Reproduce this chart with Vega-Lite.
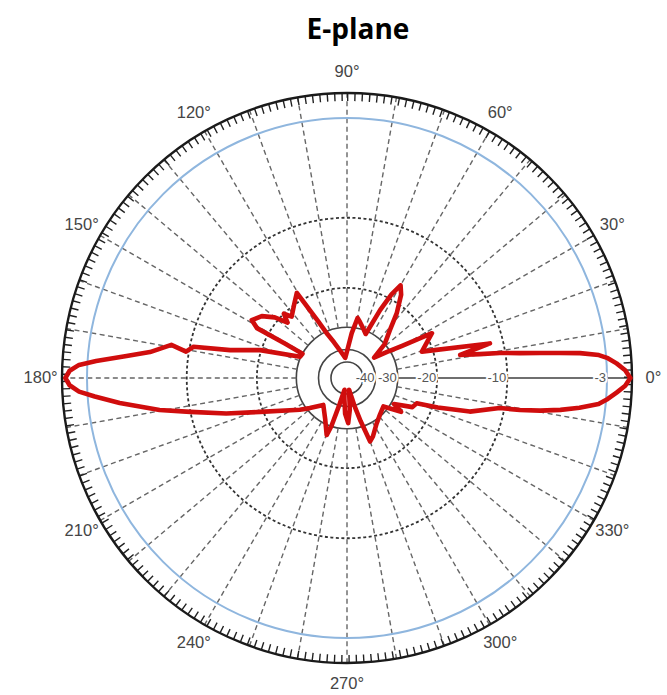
{
  "$schema": "https://vega.github.io/schema/vega-lite/v6.json",
  "width": 570,
  "height": 570,
  "autosize": {"type": "none"},
  "padding": {"left": 62, "top": 93, "right": 35, "bottom": 32},
  "background": "white",
  "title": {
    "text": "E-plane",
    "font": "Open Sans",
    "fontSize": 28,
    "fontWeight": "bold",
    "color": "#000000",
    "anchor": "middle",
    "frame": "group",
    "dx": 11,
    "offset": 19
  },
  "config": {"view": {"stroke": null}},
  "datasets": {
    "innerRings": [{"dB": -50}, {"dB": -40}, {"dB": -30}],
    "dottedRings": [{"dB": -20}, {"dB": -10}],
    "halfPower": [{"dB": -3}],
    "outer": [{"dB": 0}],
    "spokes": [
      {"angle": 10}, {"angle": 20}, {"angle": 30}, {"angle": 40}, {"angle": 50}, {"angle": 60},
      {"angle": 70}, {"angle": 80}, {"angle": 90}, {"angle": 100}, {"angle": 110}, {"angle": 120},
      {"angle": 130}, {"angle": 140}, {"angle": 150}, {"angle": 160}, {"angle": 170}, {"angle": 180},
      {"angle": 190}, {"angle": 200}, {"angle": 210}, {"angle": 220}, {"angle": 230}, {"angle": 240},
      {"angle": 250}, {"angle": 260}, {"angle": 270}, {"angle": 280}, {"angle": 290}, {"angle": 300},
      {"angle": 310}, {"angle": 320}, {"angle": 330}, {"angle": 340}, {"angle": 350}
    ],
    "radialAxis": [{"angle": 0}],
    "angleLabels": [
      {"angle": 0, "label": "0°"}, {"angle": 30, "label": "30°"}, {"angle": 60, "label": "60°"},
      {"angle": 90, "label": "90°"}, {"angle": 120, "label": "120°"}, {"angle": 150, "label": "150°"},
      {"angle": 180, "label": "180°"}, {"angle": 210, "label": "210°"}, {"angle": 240, "label": "240°"},
      {"angle": 270, "label": "270°"}, {"angle": 300, "label": "300°"}, {"angle": 330, "label": "330°"}
    ],
    "ringLabels": [
      {"dB": -40, "label": "-40"}, {"dB": -30, "label": "-30"}, {"dB": -20, "label": "-20"},
      {"dB": -10, "label": "-10"}, {"dB": -3, "label": "-3"}
    ],
    "ePlane": [
      {"k": 0, "angle": 0, "dB": -0.2},
      {"k": 1, "angle": 1.6, "dB": -0.8},
      {"k": 2, "angle": 3.1, "dB": -1.8},
      {"k": 3, "angle": 4.35, "dB": -2.8},
      {"k": 4, "angle": 5.2, "dB": -3.5},
      {"k": 5, "angle": 6.1, "dB": -4.8},
      {"k": 6, "angle": 6.7, "dB": -6.2},
      {"k": 7, "angle": 7.4, "dB": -7.6},
      {"k": 8, "angle": 8.2, "dB": -9},
      {"k": 9, "angle": 9.3, "dB": -10.6},
      {"k": 10, "angle": 10.2, "dB": -13},
      {"k": 11, "angle": 11.5, "dB": -15.7},
      {"k": 12, "angle": 13.6, "dB": -11.5},
      {"k": 13, "angle": 19.4, "dB": -22.2},
      {"k": 14, "angle": 27.8, "dB": -18.9},
      {"k": 15, "angle": 30.2, "dB": -26},
      {"k": 16, "angle": 33, "dB": -31},
      {"k": 17, "angle": 37, "dB": -37},
      {"k": 18, "angle": 42, "dB": -30},
      {"k": 19, "angle": 48, "dB": -26},
      {"k": 20, "angle": 52.5, "dB": -21.7},
      {"k": 21, "angle": 57, "dB": -18.3},
      {"k": 22, "angle": 60, "dB": -17},
      {"k": 23, "angle": 62, "dB": -19.2},
      {"k": 24, "angle": 64, "dB": -23},
      {"k": 25, "angle": 67, "dB": -31},
      {"k": 26, "angle": 72, "dB": -29.5},
      {"k": 27, "angle": 77, "dB": -27.8},
      {"k": 28, "angle": 80, "dB": -26.8},
      {"k": 29, "angle": 84, "dB": -32},
      {"k": 30, "angle": 89, "dB": -40},
      {"k": 31, "angle": 95, "dB": -46},
      {"k": 32, "angle": 105, "dB": -39.4},
      {"k": 33, "angle": 110, "dB": -35},
      {"k": 34, "angle": 114, "dB": -31},
      {"k": 35, "angle": 117, "dB": -26},
      {"k": 36, "angle": 120.5, "dB": -18.4},
      {"k": 37, "angle": 126, "dB": -20},
      {"k": 38, "angle": 132, "dB": -21.5},
      {"k": 39, "angle": 134.5, "dB": -20},
      {"k": 40, "angle": 137, "dB": -21.8},
      {"k": 41, "angle": 140, "dB": -19.2},
      {"k": 42, "angle": 144, "dB": -17.3},
      {"k": 43, "angle": 148.7, "dB": -16.3},
      {"k": 44, "angle": 151, "dB": -17.7},
      {"k": 45, "angle": 151, "dB": -24},
      {"k": 46, "angle": 151.5, "dB": -30},
      {"k": 47, "angle": 155.6, "dB": -29.7},
      {"k": 48, "angle": 162.2, "dB": -19.8},
      {"k": 49, "angle": 166.6, "dB": -15},
      {"k": 50, "angle": 168.5, "dB": -10.4},
      {"k": 51, "angle": 170.7, "dB": -9.8},
      {"k": 52, "angle": 169.3, "dB": -8.7},
      {"k": 53, "angle": 172.5, "dB": -7.3},
      {"k": 54, "angle": 174.3, "dB": -5.7},
      {"k": 55, "angle": 176.1, "dB": -3.6},
      {"k": 56, "angle": 177.2, "dB": -2},
      {"k": 57, "angle": 178.5, "dB": -0.9},
      {"k": 58, "angle": 180, "dB": -0.4},
      {"k": 59, "angle": 181.5, "dB": -0.9},
      {"k": 60, "angle": 182.9, "dB": -2},
      {"k": 61, "angle": 184.2, "dB": -3.5},
      {"k": 62, "angle": 186.3, "dB": -5.2},
      {"k": 63, "angle": 189.7, "dB": -7.9},
      {"k": 64, "angle": 192.2, "dB": -10},
      {"k": 65, "angle": 196.4, "dB": -14.2},
      {"k": 66, "angle": 201.3, "dB": -19.4},
      {"k": 67, "angle": 214, "dB": -28},
      {"k": 68, "angle": 219, "dB": -31},
      {"k": 69, "angle": 228.7, "dB": -36},
      {"k": 70, "angle": 242, "dB": -31.5},
      {"k": 71, "angle": 250.4, "dB": -26.9},
      {"k": 72, "angle": 252, "dB": -30},
      {"k": 73, "angle": 254, "dB": -40},
      {"k": 74, "angle": 258, "dB": -55},
      {"k": 75, "angle": 263, "dB": -45},
      {"k": 76, "angle": 267, "dB": -36},
      {"k": 77, "angle": 271.5, "dB": -32},
      {"k": 78, "angle": 275, "dB": -38},
      {"k": 79, "angle": 280, "dB": -55},
      {"k": 80, "angle": 285, "dB": -40},
      {"k": 81, "angle": 287.5, "dB": -32},
      {"k": 82, "angle": 290, "dB": -25},
      {"k": 83, "angle": 294, "dB": -26},
      {"k": 84, "angle": 302.7, "dB": -28.7},
      {"k": 85, "angle": 312, "dB": -30.5},
      {"k": 86, "angle": 322, "dB": -31.6},
      {"k": 87, "angle": 328, "dB": -26},
      {"k": 88, "angle": 331, "dB": -29},
      {"k": 89, "angle": 336, "dB": -24},
      {"k": 90, "angle": 340, "dB": -23.4},
      {"k": 91, "angle": 342, "dB": -19},
      {"k": 92, "angle": 344.7, "dB": -14},
      {"k": 93, "angle": 348.9, "dB": -10.5},
      {"k": 94, "angle": 349.5, "dB": -8.9},
      {"k": 95, "angle": 350.4, "dB": -7.5},
      {"k": 96, "angle": 351.5, "dB": -6.1},
      {"k": 97, "angle": 352.7, "dB": -4.8},
      {"k": 98, "angle": 354.1, "dB": -3.5},
      {"k": 99, "angle": 355.4, "dB": -2.8},
      {"k": 100, "angle": 356.9, "dB": -1.8},
      {"k": 101, "angle": 358.4, "dB": -0.8},
      {"k": 102, "angle": 360, "dB": -0.2}
    ]
  },
  "layer": [
    {
      "data": {"name": "innerRings"},
      "transform": [
        {"calculate": "datum.dB <= -10 ? pow(10, datum.dB / 40) : (datum.dB <= -3 ? 0.5623 + (datum.dB + 10) * 0.05 : 0.912 + (datum.dB + 3) * 0.02933)", "as": "r"}
      ],
      "mark": {"type": "arc", "theta": 0, "theta2": 6.2832, "filled": false, "stroke": "#444444", "strokeWidth": 1.6},
      "encoding": {
        "radius": {"field": "r", "type": "quantitative", "stack": null, "scale": {"type": "linear", "domain": [0, 1], "range": [0, {"expr": "width / 2"}]}}
      }
    },
    {
      "data": {"name": "dottedRings"},
      "transform": [
        {"calculate": "datum.dB <= -10 ? pow(10, datum.dB / 40) : (datum.dB <= -3 ? 0.5623 + (datum.dB + 10) * 0.05 : 0.912 + (datum.dB + 3) * 0.02933)", "as": "r"}
      ],
      "mark": {"type": "arc", "theta": 0, "theta2": 6.2832, "filled": false, "stroke": "#333333", "strokeWidth": 1.8, "strokeDash": [3, 2.5]},
      "encoding": {
        "radius": {"field": "r", "type": "quantitative", "stack": null, "scale": {"type": "linear", "domain": [0, 1], "range": [0, {"expr": "width / 2"}]}}
      }
    },
    {
      "data": {"name": "spokes"},
      "transform": [
        {"calculate": "pow(10, -30 / 40) * cos(datum.angle * PI / 180)", "as": "x1"},
        {"calculate": "pow(10, -30 / 40) * sin(datum.angle * PI / 180)", "as": "y1"},
        {"calculate": "cos(datum.angle * PI / 180)", "as": "x2"},
        {"calculate": "sin(datum.angle * PI / 180)", "as": "y2"}
      ],
      "mark": {"type": "rule", "stroke": "#666666", "strokeWidth": 1.4, "strokeDash": [5, 3.5]},
      "encoding": {
        "x": {"field": "x1", "type": "quantitative", "scale": {"domain": [-1, 1], "nice": false, "zero": false}, "axis": null},
        "y": {"field": "y1", "type": "quantitative", "scale": {"domain": [-1, 1], "nice": false, "zero": false}, "axis": null},
        "x2": {"field": "x2"},
        "y2": {"field": "y2"}
      }
    },
    {
      "data": {"name": "radialAxis"},
      "transform": [
        {"calculate": "pow(10, -30 / 40) * cos(datum.angle * PI / 180)", "as": "x1"},
        {"calculate": "pow(10, -30 / 40) * sin(datum.angle * PI / 180)", "as": "y1"},
        {"calculate": "cos(datum.angle * PI / 180)", "as": "x2"},
        {"calculate": "sin(datum.angle * PI / 180)", "as": "y2"}
      ],
      "mark": {"type": "rule", "stroke": "#6f6f6f", "strokeWidth": 2},
      "encoding": {
        "x": {"field": "x1", "type": "quantitative"},
        "y": {"field": "y1", "type": "quantitative"},
        "x2": {"field": "x2"},
        "y2": {"field": "y2"}
      }
    },
    {
      "data": {"name": "halfPower"},
      "transform": [
        {"calculate": "datum.dB <= -10 ? pow(10, datum.dB / 40) : (datum.dB <= -3 ? 0.5623 + (datum.dB + 10) * 0.05 : 0.912 + (datum.dB + 3) * 0.02933)", "as": "r"}
      ],
      "mark": {"type": "arc", "theta": 0, "theta2": 6.2832, "filled": false, "stroke": "#8fb6de", "strokeWidth": 2},
      "encoding": {
        "radius": {"field": "r", "type": "quantitative", "stack": null, "scale": {"type": "linear", "domain": [0, 1], "range": [0, {"expr": "width / 2"}]}}
      }
    },
    {
      "data": {"name": "outer"},
      "transform": [
        {"calculate": "datum.dB <= -10 ? pow(10, datum.dB / 40) : (datum.dB <= -3 ? 0.5623 + (datum.dB + 10) * 0.05 : 0.912 + (datum.dB + 3) * 0.02933)", "as": "r"}
      ],
      "mark": {"type": "arc", "theta": 0, "theta2": 6.2832, "filled": false, "stroke": "#222222", "strokeWidth": 8, "radiusOffset": -4, "strokeDash": [1.4, 5.93]},
      "encoding": {
        "radius": {"field": "r", "type": "quantitative", "stack": null, "scale": {"type": "linear", "domain": [0, 1], "range": [0, {"expr": "width / 2"}]}}
      }
    },
    {
      "data": {"name": "outer"},
      "transform": [
        {"calculate": "datum.dB <= -10 ? pow(10, datum.dB / 40) : (datum.dB <= -3 ? 0.5623 + (datum.dB + 10) * 0.05 : 0.912 + (datum.dB + 3) * 0.02933)", "as": "r"}
      ],
      "mark": {"type": "arc", "theta": 0, "theta2": 6.2832, "filled": false, "stroke": "#1a1a1a", "strokeWidth": 2.4},
      "encoding": {
        "radius": {"field": "r", "type": "quantitative", "stack": null, "scale": {"type": "linear", "domain": [0, 1], "range": [0, {"expr": "width / 2"}]}}
      }
    },
    {
      "data": {"name": "ringLabels"},
      "transform": [
        {"calculate": "datum.dB <= -10 ? pow(10, datum.dB / 40) : (datum.dB <= -3 ? 0.5623 + (datum.dB + 10) * 0.05 : 0.912 + (datum.dB + 3) * 0.02933)", "as": "r"},
        {"calculate": "0", "as": "y0"}
      ],
      "layer": [
        {
          "mark": {"type": "text", "align": "right", "baseline": "middle", "dx": -1, "font": "Liberation Sans", "fontSize": 13, "fill": "white", "stroke": "white", "strokeWidth": 4},
          "encoding": {
            "x": {"field": "r", "type": "quantitative"},
            "y": {"field": "y0", "type": "quantitative"},
            "text": {"field": "label"}
          }
        },
        {
          "mark": {"type": "text", "align": "right", "baseline": "middle", "dx": -1, "font": "Liberation Sans", "fontSize": 13, "color": "#555555"},
          "encoding": {
            "x": {"field": "r", "type": "quantitative"},
            "y": {"field": "y0", "type": "quantitative"},
            "text": {"field": "label"}
          }
        }
      ]
    },
    {
      "data": {"name": "angleLabels"},
      "transform": [
        {"calculate": "1.075 * cos(datum.angle * PI / 180)", "as": "lx"},
        {"calculate": "1.075 * sin(datum.angle * PI / 180)", "as": "ly"}
      ],
      "mark": {"type": "text", "align": "center", "baseline": "middle", "font": "Liberation Sans", "fontSize": 16.5, "color": "#454545"},
      "encoding": {
        "x": {"field": "lx", "type": "quantitative"},
        "y": {"field": "ly", "type": "quantitative"},
        "text": {"field": "label"}
      }
    },
    {
      "data": {"name": "ePlane"},
      "transform": [
        {"calculate": "datum.dB <= -10 ? pow(10, datum.dB / 40) : (datum.dB <= -3 ? 0.5623 + (datum.dB + 10) * 0.05 : 0.912 + (datum.dB + 3) * 0.02933)", "as": "r"},
        {"calculate": "datum.r * cos(datum.angle * PI / 180)", "as": "px"},
        {"calculate": "datum.r * sin(datum.angle * PI / 180)", "as": "py"}
      ],
      "mark": {"type": "line", "stroke": "#d00d0d", "strokeWidth": 4.6, "strokeJoin": "round", "strokeCap": "round"},
      "encoding": {
        "x": {"field": "px", "type": "quantitative"},
        "y": {"field": "py", "type": "quantitative"},
        "order": {"field": "k", "type": "quantitative"}
      }
    }
  ]
}
